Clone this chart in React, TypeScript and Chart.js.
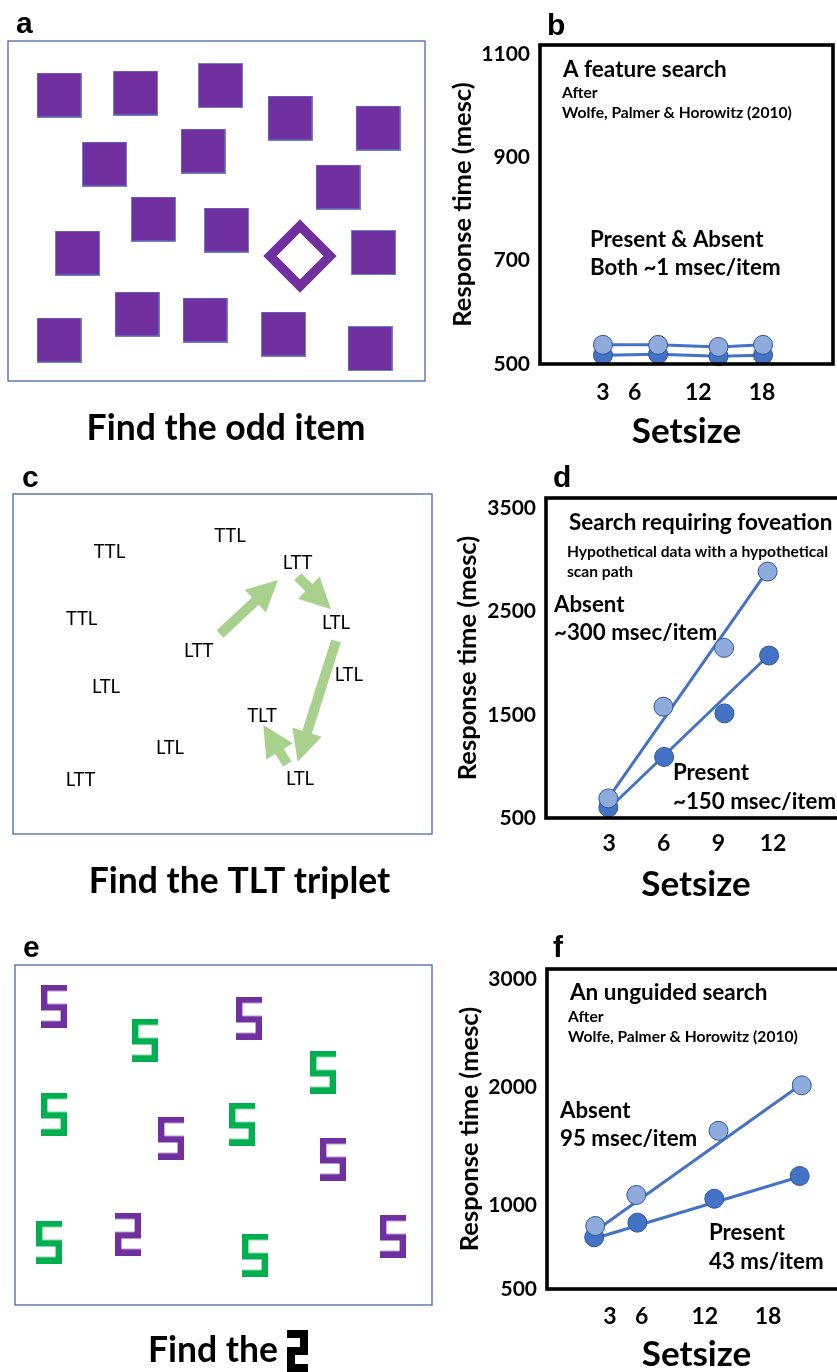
import React, { useEffect, useRef } from 'react';
import { Chart, registerables, LinearScale } from 'chart.js';

Chart.register(...registerables);

/* ------------------------------------------------------------------ */
/* Data                                                                */
/* ------------------------------------------------------------------ */

// (b) feature search – response time (ms) by set size
const featureSetsize = [3, 8.2, 13.9, 18.1];
const featureAbsentRT = [537, 537, 533, 537];
const featurePresentRT = [517, 519, 515, 517];
const featureXTicks = [3, 6, 12, 18];
const featureYTicks = [500, 700, 900, 1100];

// (d) search requiring foveation (hypothetical data)
const foveaAbsentSetsize = [2.96, 5.98, 9.31, 11.7];
const foveaAbsentRT = [690, 1579, 2149, 2889];
const foveaPresentSetsize = [2.96, 6.02, 9.33, 11.78];
const foveaPresentRT = [603, 1092, 1514, 2075];
const foveaAbsentFitX = [3.05, 11.6];
const foveaAbsentFitRT = [715, 2874];
const foveaPresentFitX = [3.15, 11.7];
const foveaPresentFitRT = [619, 2068];
const foveaXTicks = [3, 6, 9, 12];
const foveaYTicks = [500, 1500, 2500, 3500];

// (f) unguided search
const unguidedAbsentSetsize = [1.6, 5.5, 13.3, 21.2];
const unguidedAbsentRT = [875, 1085, 1629, 2016];
const unguidedPresentSetsize = [1.5, 5.6, 12.9, 21.0];
const unguidedPresentRT = [808, 895, 1053, 1246];
const unguidedAbsentFitX = [2.4, 20.85];
const unguidedAbsentFitRT = [881, 2003];
const unguidedPresentFitX = [1.6, 21.0];
const unguidedPresentFitRT = [802, 1240];
const unguidedXTicks = [3, 6, 12, 18];
const unguidedYTicks = [500, 1000, 2000, 3000];

// (a) odd-item display: item centres in display units
const squareX = [51, 127.5, 212.5, 282, 370, 96.5, 195, 330, 145.5, 218.5, 365.5, 69.5, 129, 197, 275.5, 362, 51];
const squareY = [54, 52, 44.5, 77, 87, 123, 110, 146, 178, 189, 211.5, 212, 273, 279, 293, 307.5, 299];
const diamondX = [292];
const diamondY = [215];

// (c) letter-triplet display and scan path
const tripletText = ['TTL', 'TTL', 'LTT', 'TTL', 'LTL', 'LTT', 'LTL', 'LTL', 'TLT', 'LTL', 'LTT', 'LTL'];
const tripletX = [217, 96.5, 284.5, 68.7, 323, 185.7, 335.8, 93, 249, 157, 67.5, 287];
const tripletY = [42, 58, 69, 125, 129, 157, 181, 193, 222, 254, 286, 285];
const scanFromX = [207, 284.7, 323, 274.3];
const scanFromY = [140, 82.7, 147, 270];
const scanToX = [265, 318, 284.7, 250.3];
const scanToY = [86, 115.3, 267.7, 231];

// (e) spatial-configuration display
const purpleFiveX = [39, 234, 156, 318, 378];
const purpleFiveY = [41, 53, 173, 194, 271];
const greenFiveX = [130, 308, 39, 227, 34, 240];
const greenFiveY = [75, 107, 149, 159, 277, 290];
const mirroredX = [113];
const mirroredY = [269];

/* ------------------------------------------------------------------ */
/* Styling                                                             */
/* ------------------------------------------------------------------ */

const SANS = 'Lato, "Noto Sans", "DejaVu Sans", sans-serif';
const ARIAL = '"Liberation Sans", Arial, sans-serif';
const PURPLE = '#7030A0';
const GREEN = '#00B050';
const ARROW_GREEN = '#A9D18E';
const FRAME_BLUE = '#4A66AC';
const BLUE = '#4472C4';
const BLUE_LIGHT = '#8FAADC';
const BLUE_EDGE = '#2F5597';
const BIG = 22.3;
const SMALL = 15.6;

const pts = (xs: number[], ys: number[]) => xs.map((x, i) => ({ x, y: ys[i] }));

/* Hand-spaced RT axis of panel f: value -> fraction of axis height */
const UNGUIDED_AXIS_KNOTS: [number, number][] = [
  [500, 0],
  [1000, 0.2625],
  [2000, 0.631],
  [3000, 0.969],
  [3092, 1],
];

class KnotScale extends LinearScale {
  static id = 'knot';
  static defaults = LinearScale.defaults;

  valueToFraction(v: number) {
    const k = UNGUIDED_AXIS_KNOTS;
    let i = 1;
    while (i < k.length - 1 && v > k[i][0]) i++;
    const [v0, f0] = k[i - 1];
    const [v1, f1] = k[i];
    return f0 + ((v - v0) / (v1 - v0)) * (f1 - f0);
  }

  getPixelForValue(value: number) {
    if (value === null || value === undefined || isNaN(value)) return NaN;
    return this.getPixelForDecimal(this.valueToFraction(value));
  }

  getValueForPixel(pixel: number) {
    const f = this.getDecimalForPixel(pixel);
    const k = UNGUIDED_AXIS_KNOTS;
    let i = 1;
    while (i < k.length - 1 && f > k[i][1]) i++;
    const [v0, f0] = k[i - 1];
    const [v1, f1] = k[i];
    return v0 + ((f - f0) / (f1 - f0)) * (v1 - v0);
  }
}
Chart.register(KnotScale);

/* ------------------------------------------------------------------ */
/* Shape helpers                                                       */
/* ------------------------------------------------------------------ */

// "5"-like spatial configuration; mirrored gives the "2"-like target
function glyphPath(ctx: CanvasRenderingContext2D, x: number, y: number, w: number, h: number, t: number, m: number, mirror: boolean) {
  const P = [
    [0, 0], [w, 0], [w, t], [t, t], [t, m], [w, m], [w, h], [0, h],
    [0, h - t], [w - t, h - t], [w - t, m + t], [0, m + t],
  ];
  ctx.beginPath();
  P.forEach(([px, py], i) => {
    const X = x + (mirror ? w - px : px);
    const Y = y + py;
    if (i === 0) ctx.moveTo(X, Y);
    else ctx.lineTo(X, Y);
  });
  ctx.closePath();
}

function makeCanvas(w: number, h: number, draw: (c: CanvasRenderingContext2D) => void) {
  const c = document.createElement('canvas');
  c.width = w;
  c.height = h;
  draw(c.getContext('2d')!);
  return c;
}

const squareImage = () =>
  makeCanvas(45, 45, (c) => {
    c.fillStyle = PURPLE;
    c.fillRect(0.5, 0.5, 44, 44);
    c.strokeStyle = '#6C82C4';
    c.lineWidth = 1;
    c.strokeRect(0.5, 0.5, 44, 44);
  });

const diamondImage = () =>
  makeCanvas(80, 80, (c) => {
    c.strokeStyle = PURPLE;
    c.lineWidth = 9.5;
    c.lineJoin = 'miter';
    c.beginPath();
    c.moveTo(40, 10);
    c.lineTo(70, 40);
    c.lineTo(40, 70);
    c.lineTo(10, 40);
    c.closePath();
    c.stroke();
  });

const glyphImage = (color: string, mirror: boolean) =>
  makeCanvas(26, 43, (c) => {
    c.fillStyle = color;
    glyphPath(c, 0, 0, 26, 43, 6.4, 19.6, mirror);
    c.fill();
  });

function drawArrow(ctx: CanvasRenderingContext2D, x1: number, y1: number, x2: number, y2: number) {
  const shaft = 10;
  const headLen = 31;
  const headW = 31;
  const ang = Math.atan2(y2 - y1, x2 - x1);
  const len = Math.hypot(x2 - x1, y2 - y1);
  ctx.save();
  ctx.translate(x1, y1);
  ctx.rotate(ang);
  ctx.beginPath();
  ctx.moveTo(0, -shaft / 2);
  ctx.lineTo(len - headLen, -shaft / 2);
  ctx.lineTo(len - headLen, -headW / 2);
  ctx.lineTo(len, 0);
  ctx.lineTo(len - headLen, headW / 2);
  ctx.lineTo(len - headLen, shaft / 2);
  ctx.lineTo(0, shaft / 2);
  ctx.closePath();
  ctx.fill();
  ctx.restore();
}

/* ------------------------------------------------------------------ */
/* Plugins                                                             */
/* ------------------------------------------------------------------ */

const framePlugin = (color: string, width: number) => ({
  id: 'frame',
  afterDatasetsDraw(chart: any) {
    const { ctx, chartArea: a } = chart;
    ctx.save();
    ctx.strokeStyle = color;
    ctx.lineWidth = width;
    ctx.strokeRect(a.left, a.top, a.right - a.left, a.bottom - a.top);
    ctx.restore();
  },
});

type Note = { text: string; x: number; y: number; size: number };

const textPlugin = (letter: string, lx: number, ly: number, notes: Note[]) => ({
  id: 'panelText',
  afterDraw(chart: any) {
    const ctx = chart.ctx as CanvasRenderingContext2D;
    ctx.save();
    ctx.fillStyle = '#000';
    ctx.font = `bold 30px ${ARIAL}`;
    ctx.textAlign = 'left';
    ctx.textBaseline = 'alphabetic';
    ctx.fillText(letter, lx, ly);
    ctx.textBaseline = 'middle';
    for (const n of notes) {
      ctx.font = `bold ${n.size}px ${SANS}`;
      ctx.fillText(n.text, n.x, n.y);
    }
    ctx.restore();
  },
});

const captionPlugin = (text: string, cx: number, baseline: number) => ({
  id: 'caption',
  afterDraw(chart: any) {
    const ctx = chart.ctx as CanvasRenderingContext2D;
    ctx.save();
    ctx.fillStyle = '#000';
    ctx.font = `bold 35.5px ${SANS}`;
    ctx.textAlign = 'center';
    ctx.textBaseline = 'alphabetic';
    ctx.fillText(text, cx, baseline);
    ctx.restore();
  },
});

/* ------------------------------------------------------------------ */
/* Chart configurations                                                */
/* ------------------------------------------------------------------ */

interface RtSpec {
  letter: string; letterX: number; letterY: number;
  notes: Note[];
  datasets: any[];
  padTop: number; padRight: number;
  yAxisW: number; xAxisH: number;
  xMin: number; xMax: number; xTicks: number[];
  yType: string; yMin: number; yMax: number; yTicks: number[];
  yTickPad: number; yTitlePad: number; xTickPad: number; xTitlePad: number;
}

function rtConfig(s: RtSpec) {
  return {
    type: 'scatter',
    data: { datasets: s.datasets },
    options: {
      animation: false,
      responsive: false,
      events: [],
      layout: { autoPadding: false, padding: { left: 0, top: s.padTop, right: s.padRight, bottom: 0 } },
      plugins: { legend: { display: false }, tooltip: { enabled: false } },
      scales: {
        x: {
          type: 'linear',
          min: s.xMin,
          max: s.xMax,
          afterBuildTicks: (sc: any) => { sc.ticks = s.xTicks.map((v) => ({ value: v })); },
          afterFit: (sc: any) => { sc.height = s.xAxisH; },
          grid: { display: false, drawTicks: false },
          border: { display: false },
          ticks: {
            color: '#000',
            font: { family: SANS, size: 23, weight: 'bold' },
            padding: s.xTickPad,
            maxRotation: 0,
            autoSkip: false,
            callback: (v: any) => String(v),
          },
          title: {
            display: true,
            text: 'Setsize',
            color: '#000',
            font: { family: SANS, size: 35, weight: 'bold', lineHeight: 1 },
            padding: { top: 0, bottom: s.xTitlePad },
          },
        },
        y: {
          type: s.yType,
          min: s.yMin,
          max: s.yMax,
          afterBuildTicks: (sc: any) => { sc.ticks = s.yTicks.map((v) => ({ value: v })); },
          afterFit: (sc: any) => { sc.width = s.yAxisW; },
          grid: { display: false, drawTicks: false },
          border: { display: false },
          ticks: {
            color: '#000',
            font: { family: SANS, size: 21, weight: 'bold' },
            padding: s.yTickPad,
            autoSkip: false,
            callback: (v: any) => String(v),
          },
          title: {
            display: true,
            text: 'Response time (mesc)',
            color: '#000',
            font: { family: SANS, size: 25.5, weight: 'bold', lineHeight: 1 },
            padding: { top: s.yTitlePad, bottom: 0 },
          },
        },
      },
    },
    plugins: [framePlugin('#000', 3.6), textPlugin(s.letter, s.letterX, s.letterY, s.notes)],
  };
}

const rtPoints = (label: string, xs: number[], ys: number[], fill: string, order: number, line = false) => ({
  label,
  data: pts(xs, ys),
  showLine: line,
  borderColor: BLUE,
  borderWidth: 3,
  backgroundColor: fill,
  pointBackgroundColor: fill,
  pointBorderColor: BLUE_EDGE,
  pointBorderWidth: 1,
  pointRadius: 9.5,
  order,
  clip: false,
});

const rtFit = (label: string, xs: number[], ys: number[], order: number) => ({
  label,
  data: pts(xs, ys),
  showLine: true,
  borderColor: BLUE,
  borderWidth: 3,
  pointRadius: 0,
  order,
  clip: false,
});

const makeFeature = () =>
  rtConfig({
    letter: 'b', letterX: 110, letterY: 35,
    notes: [
      { text: 'A feature search', x: 126, y: 70, size: 22.5 },
      { text: 'After', x: 125, y: 93, size: SMALL },
      { text: 'Wolfe, Palmer & Horowitz (2010)', x: 125, y: 113, size: SMALL },
      { text: 'Present & Absent', x: 153, y: 240, size: BIG },
      { text: 'Both ~1 msec/item', x: 153, y: 268, size: BIG },
    ],
    datasets: [
      rtPoints('Absent', featureSetsize, featureAbsentRT, BLUE_LIGHT, 0, true),
      rtPoints('Present', featureSetsize, featurePresentRT, BLUE, 1, true),
    ],
    padTop: 45, padRight: 17, yAxisW: 103, xAxisH: 91,
    xMin: -2.94, xMax: 24.7, xTicks: featureXTicks,
    yType: 'linear', yMin: 500, yMax: 1117, yTicks: featureYTicks,
    yTickPad: 10, yTitlePad: 13, xTickPad: 15, xTitlePad: 6,
  });

const makeFovea = () =>
  rtConfig({
    letter: 'd', letterX: 116, letterY: 32,
    notes: [
      { text: 'Search requiring foveation', x: 132, y: 68, size: 22.5 },
      { text: 'Hypothetical data with a hypothetical', x: 130, y: 97, size: SMALL },
      { text: 'scan path', x: 130, y: 117, size: SMALL },
      { text: 'Absent', x: 117, y: 150, size: BIG },
      { text: '~300 msec/item', x: 117, y: 178, size: BIG },
      { text: 'Present', x: 236, y: 318, size: BIG },
      { text: '~150 msec/item', x: 236, y: 347, size: BIG },
    ],
    datasets: [
      rtPoints('Absent', foveaAbsentSetsize, foveaAbsentRT, BLUE_LIGHT, 0),
      rtPoints('Present', foveaPresentSetsize, foveaPresentRT, BLUE, 1),
      rtFit('Absent fit', foveaAbsentFitX, foveaAbsentFitRT, 2),
      rtFit('Present fit', foveaPresentFitX, foveaPresentFitRT, 3),
    ],
    padTop: 43, padRight: 4, yAxisW: 109, xAxisH: 92,
    xMin: -0.46, xMax: 16, xTicks: foveaXTicks,
    yType: 'linear', yMin: 500, yMax: 3602, yTicks: foveaYTicks,
    yTickPad: 10, yTitlePad: 18, xTickPad: 12, xTitlePad: 8,
  });

const makeUnguided = () =>
  rtConfig({
    letter: 'f', letterX: 116, letterY: 47,
    notes: [
      { text: 'An unguided search', x: 133, y: 83, size: 22.5 },
      { text: 'After', x: 131, y: 107, size: SMALL },
      { text: 'Wolfe, Palmer & Horowitz (2010)', x: 131, y: 127, size: SMALL },
      { text: 'Absent', x: 123, y: 201, size: BIG },
      { text: '95 msec/item', x: 123, y: 229, size: BIG },
      { text: 'Present', x: 272, y: 323, size: BIG },
      { text: '43 ms/item', x: 272, y: 352, size: BIG },
    ],
    datasets: [
      rtPoints('Absent', unguidedAbsentSetsize, unguidedAbsentRT, BLUE_LIGHT, 0),
      rtPoints('Present', unguidedPresentSetsize, unguidedPresentRT, BLUE, 1),
      rtFit('Absent fit', unguidedAbsentFitX, unguidedAbsentFitRT, 2),
      rtFit('Present fit', unguidedPresentFitX, unguidedPresentFitRT, 3),
    ],
    padTop: 59, padRight: 4, yAxisW: 110, xAxisH: 83,
    xMin: -2.98, xMax: 25.4, xTicks: unguidedXTicks,
    yType: 'knot', yMin: 500, yMax: 3092, yTicks: unguidedYTicks,
    yTickPad: 10, yTitlePad: 20, xTickPad: 14, xTitlePad: 0,
  });

function displayOptions(padding: any, width: number) {
  return {
    animation: false,
    responsive: false,
    events: [],
    layout: { autoPadding: false, padding },
    plugins: { legend: { display: false }, tooltip: { enabled: false } },
    scales: {
      x: { type: 'linear', min: 0, max: width, display: false },
      y: { type: 'linear', min: 0, max: 340, reverse: true, display: false },
    },
  };
}

const imageSet = (label: string, xs: number[], ys: number[], img: HTMLCanvasElement) => ({
  label,
  data: pts(xs, ys),
  pointStyle: img,
  pointRadius: 20,
  clip: false,
});

const makeOddItem = () => ({
  type: 'scatter',
  data: {
    datasets: [
      imageSet('Squares', squareX, squareY, squareImage()),
      imageSet('Diamond', diamondX, diamondY, diamondImage()),
    ],
  },
  options: displayOptions({ left: 8, top: 41, right: 12, bottom: 74 }, 417),
  plugins: [
    framePlugin(FRAME_BLUE, 1.3),
    textPlugin('a', 16, 33, []),
    captionPlugin('Find the odd item', 226, 440),
  ],
});

const makeTriplets = () => ({
  type: 'scatter',
  data: {
    datasets: [
      { label: 'Triplets', data: pts(tripletX, tripletY), pointRadius: 0, clip: false },
    ],
  },
  options: displayOptions({ left: 13, top: 39, right: 5, bottom: 76 }, 419),
  plugins: [
    framePlugin(FRAME_BLUE, 1.3),
    {
      id: 'scanPath',
      afterDatasetsDraw(chart: any) {
        const { ctx, scales } = chart;
        ctx.save();
        ctx.fillStyle = ARROW_GREEN;
        scanFromX.forEach((_, i) => {
          drawArrow(
            ctx,
            scales.x.getPixelForValue(scanFromX[i]),
            scales.y.getPixelForValue(scanFromY[i]),
            scales.x.getPixelForValue(scanToX[i]),
            scales.y.getPixelForValue(scanToY[i]),
          );
        });
        ctx.fillStyle = '#000';
        ctx.font = `18.5px ${SANS}`;
        ctx.textAlign = 'center';
        ctx.textBaseline = 'middle';
        chart.getDatasetMeta(0).data.forEach((el: any, i: number) => {
          ctx.fillText(tripletText[i], el.x, el.y);
        });
        ctx.restore();
      },
    },
    textPlugin('c', 22, 32, []),
    captionPlugin('Find the TLT triplet', 239.5, 438),
  ],
});

const makeConfig = () => ({
  type: 'scatter',
  data: {
    datasets: [
      imageSet('Purple 5', purpleFiveX, purpleFiveY, glyphImage(PURPLE, false)),
      imageSet('Green 5', greenFiveX, greenFiveY, glyphImage(GREEN, false)),
      imageSet('Target', mirroredX, mirroredY, glyphImage(PURPLE, true)),
    ],
  },
  options: displayOptions({ left: 15, top: 55, right: 5, bottom: 67 }, 417),
  plugins: [
    framePlugin(FRAME_BLUE, 1.3),
    textPlugin('e', 23, 47, []),
    {
      id: 'targetCaption',
      afterDraw(chart: any) {
        const ctx = chart.ctx as CanvasRenderingContext2D;
        ctx.save();
        ctx.fillStyle = '#000';
        ctx.font = `bold 35.5px ${SANS}`;
        ctx.textAlign = 'left';
        ctx.textBaseline = 'alphabetic';
        ctx.fillText('Find the', 148, 452);
        glyphPath(ctx, 287, 420, 21, 42, 8, 17, true);
        ctx.fill();
        ctx.restore();
      },
    },
  ],
});

/* ------------------------------------------------------------------ */
/* Components                                                          */
/* ------------------------------------------------------------------ */

function ChartCanvas({ make, left, top, width, height }: { make: () => any; left: number; top: number; width: number; height: number }) {
  const ref = useRef<HTMLCanvasElement>(null);
  useEffect(() => {
    const chart = new Chart(ref.current!, make());
    return () => chart.destroy();
  }, [make]);
  return (
    <canvas
      ref={ref}
      width={width}
      height={height}
      style={{ position: 'absolute', left, top, width, height }}
    />
  );
}

export default function App() {
  return (
    <div
      style={{
        position: 'absolute',
        left: 0,
        top: 0,
        width: 837,
        height: 1372,
        overflow: 'hidden',
        background: '#fff',
      }}
    >
      <ChartCanvas make={makeOddItem} left={0} top={0} width={437} height={455} />
      <ChartCanvas make={makeFeature} left={437} top={0} width={413} height={455} />
      <ChartCanvas make={makeTriplets} left={0} top={455} width={437} height={455} />
      <ChartCanvas make={makeFovea} left={437} top={455} width={413} height={455} />
      <ChartCanvas make={makeConfig} left={0} top={910} width={437} height={462} />
      <ChartCanvas make={makeUnguided} left={437} top={910} width={413} height={462} />
    </div>
  );
}
